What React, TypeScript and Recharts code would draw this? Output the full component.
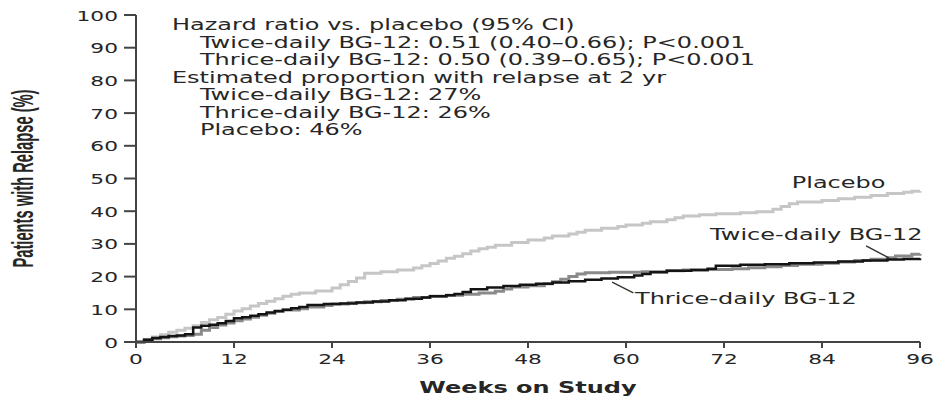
import { LineChart, Line, XAxis, YAxis, ReferenceLine, ReferenceDot } from "recharts";

const weekTicks = [0, 12, 24, 36, 48, 60, 72, 84, 96];
const pctTicks = [0, 10, 20, 30, 40, 50, 60, 70, 80, 90, 100];

const placeboWeeks = [0, 1, 2, 3, 4, 5, 6, 7, 8, 9, 10, 11, 12, 13, 14, 15, 16, 17, 18, 19, 20, 22, 24, 25, 26, 27, 28, 30, 32, 34, 35, 36, 37, 38, 39, 40, 41, 42, 43, 44, 46, 48, 50, 51, 53, 54, 55, 57, 59, 60, 62, 63, 65, 66, 67, 69, 71, 74, 76, 78, 79, 80, 81, 84, 86, 88, 90, 92, 94, 95, 96];
const placeboPct = [0, 0.8, 1.5, 2.2, 3, 3.6, 4.2, 5, 6, 6.8, 7.5, 8.5, 9.5, 10.2, 11, 11.8, 12.5, 13.2, 14, 14.6, 15, 15.6, 16.5, 17.5, 18.5, 19.6, 21, 21.5, 22, 22.6, 23.3, 24, 24.8, 25.6, 26.2, 27, 27.8, 28.5, 29, 29.6, 30.4, 31.2, 31.8, 32.4, 33, 33.6, 34.2, 34.8, 35.3, 35.8, 36.3, 36.8, 37.4, 38, 38.5, 38.9, 39.2, 39.5, 39.8, 40.6, 41.4, 42.3, 42.8, 43.3, 43.8, 44.3, 44.8, 45.4, 45.8, 46.1, 46.2];

const twiceWeeks = [0, 1, 2, 3, 4, 5, 6, 7, 8, 9, 10, 11, 12, 13, 14, 15, 16, 17, 18, 20, 21, 23, 24, 26, 28, 30, 32, 34, 36, 38, 40, 42, 44, 45, 46, 48, 50, 51, 52, 53, 54, 55, 58, 62, 65, 67, 70, 73, 75, 77, 79, 81, 84, 86, 88, 90, 92, 93, 95, 96];
const twicePct = [0, 0.6, 1, 1.3, 1.6, 1.8, 2, 2.4, 3.6, 4.4, 5.2, 5.8, 6.5, 7, 7.6, 8.2, 8.8, 9.3, 9.8, 10.2, 10.7, 11.2, 11.6, 12, 12.3, 12.7, 13.1, 13.6, 14, 14.3, 14.6, 15, 15.5, 16.2, 16.8, 17.2, 17.8, 18.4, 19.2, 20, 20.8, 21.2, 21.3, 21.5, 21.8, 22, 22.2, 22.4, 22.7, 23, 23.4, 23.8, 24.1, 24.5, 24.9, 25.3, 25.8, 26.3, 26.8, 27];

const thriceWeeks = [0, 1, 2, 3, 4, 5, 6, 7, 8, 9, 10, 11, 12, 13, 14, 15, 16, 17, 18, 19, 20, 21, 23, 25, 27, 29, 31, 33, 35, 36, 38, 39, 40, 41, 43, 45, 47, 49, 51, 53, 55, 57, 59, 61, 62, 63, 65, 68, 70, 71, 74, 77, 80, 83, 86, 89, 92, 94, 96];
const thricePct = [0, 0.7, 1.2, 1.5, 1.8, 2, 2.4, 4.4, 5, 5.3, 5.7, 6.4, 7.3, 7.6, 8, 8.5, 9, 9.5, 9.9, 10.3, 10.7, 11.3, 11.6, 11.8, 12.1, 12.4, 12.8, 13.2, 13.6, 14, 14.3, 14.7, 15.3, 16.1, 16.7, 17.1, 17.5, 17.8, 18.2, 18.6, 19, 19.4, 19.8, 20.3, 20.8, 21.3, 21.8, 22, 22.4, 23.3, 23.6, 23.8, 24.1, 24.3, 24.6, 24.9, 25.2, 25.4, 25.6];

const noteLines = [
  "Hazard ratio vs. placebo (95% CI)",
  "Twice-daily BG-12: 0.51 (0.40–0.66); P<0.001",
  "Thrice-daily BG-12: 0.50 (0.39–0.65); P<0.001",
  "Estimated proportion with relapse at 2 yr",
  "Twice-daily BG-12: 27%",
  "Thrice-daily BG-12: 26%",
  "Placebo: 46%",
];
const noteIndent = [false, true, true, false, true, true, true];

const toPoints = (weeks: number[], pct: number[]) =>
  weeks.map((w, i) => ({ week: w, pct: pct[i] }));

const placeboData = toPoints(placeboWeeks, placeboPct);
const twiceData = toPoints(twiceWeeks, twicePct);
const thriceData = toPoints(thriceWeeks, thricePct);

// the original figure is stretched sideways, so text gets the same stretch
const SX = 1.6;
const FONT = "'DejaVu Sans', Verdana, sans-serif";
const INK = "#262626";

function StretchText({ x, y, anchor = "start", size = 15, weight = "normal", sx = SX, children }: any) {
  return (
    <text
      transform={`translate(${x},${y}) scale(${sx},1)`}
      textAnchor={anchor}
      fontSize={size}
      fontWeight={weight}
      fontFamily={FONT}
      fill={INK}
    >
      {children}
    </text>
  );
}

const YTick = ({ x, y, payload }: any) => (
  <StretchText x={x} y={y + 5.5} anchor="end" size={14.5} sx={1.5}>
    {payload.value}
  </StretchText>
);

const XTick = ({ x, y, payload }: any) => (
  <StretchText x={x} y={y + 16} anchor="middle" size={14.5} sx={1.5}>
    {payload.value}
  </StretchText>
);

const XTitle = ({ viewBox }: any) => (
  <StretchText x={viewBox.x + viewBox.width / 2} y={viewBox.y + 51} anchor="middle" size={15} weight="bold">
    Weeks on Study
  </StretchText>
);

const YTitle = ({ viewBox }: any) => (
  <text
    transform={`translate(33,${viewBox.y + viewBox.height / 2}) scale(${SX},1) rotate(-90)`}
    textAnchor="middle"
    fontSize={18}
    fontWeight="bold"
    fontFamily="'Liberation Sans Narrow', 'Liberation Sans', Arial, sans-serif"
    textLength={178}
    lengthAdjust="spacingAndGlyphs"
    fill={INK}
  >
    Patients with Relapse (%)
  </text>
);

const NoteBlock = ({ cx, cy }: any) => (
  <g>
    {noteLines.map((t, i) => (
      <StretchText key={i} x={cx + (noteIndent[i] ? 28 : 0)} y={cy + i * 17.5} size={15}>
        {t}
      </StretchText>
    ))}
  </g>
);

const seriesLabel = (text: string) => ({ cx, cy }: any) => (
  <StretchText x={cx} y={cy} size={15}>
    {text}
  </StretchText>
);

export default function App() {
  return (
    <div style={{ position: "absolute", left: 0, top: 0, width: 935, height: 396, background: "#fff" }}>
      <LineChart width={935} height={396} margin={{ top: 15, right: 15, bottom: 0, left: 0 }}>
        <XAxis
          dataKey="week"
          type="number"
          domain={[0, 96]}
          ticks={weekTicks}
          allowDuplicatedCategory={false}
          height={54}
          tickSize={6}
          tickMargin={0}
          stroke="#444"
          strokeWidth={2}
          tick={<XTick />}
          label={<XTitle />}
        />
        <YAxis
          type="number"
          domain={[0, 100]}
          ticks={pctTicks}
          width={136}
          tickSize={12}
          tickMargin={6}
          stroke="#444"
          strokeWidth={2}
          tick={<YTick />}
          label={<YTitle />}
        />
        <Line data={placeboData} dataKey="pct" name="Placebo" type="stepAfter" stroke="#c6c6c6" strokeWidth={3} dot={false} isAnimationActive={false} />
        <Line data={twiceData} dataKey="pct" name="Twice-daily BG-12" type="stepAfter" stroke="#8a8a8a" strokeWidth={3} dot={false} isAnimationActive={false} />
        <Line data={thriceData} dataKey="pct" name="Thrice-daily BG-12" type="stepAfter" stroke="#141414" strokeWidth={2.5} dot={false} isAnimationActive={false} />
        <ReferenceLine segment={[{ x: 89.4, y: 29.4 }, { x: 92.2, y: 25.7 }]} stroke="#333" strokeWidth={1.4} ifOverflow="visible" />
        <ReferenceLine segment={[{ x: 58.3, y: 18.3 }, { x: 60.9, y: 15.0 }]} stroke="#333" strokeWidth={1.4} ifOverflow="visible" />
        <ReferenceDot x={80.3} y={47.1} shape={seriesLabel("Placebo")} ifOverflow="visible" />
        <ReferenceDot x={70.3} y={31.2} shape={seriesLabel("Twice-daily BG-12")} ifOverflow="visible" />
        <ReferenceDot x={61.1} y={11.6} shape={seriesLabel("Thrice-daily BG-12")} ifOverflow="visible" />
        <ReferenceDot x={4.4} y={95.4} shape={NoteBlock} ifOverflow="visible" />
      </LineChart>
    </div>
  );
}
